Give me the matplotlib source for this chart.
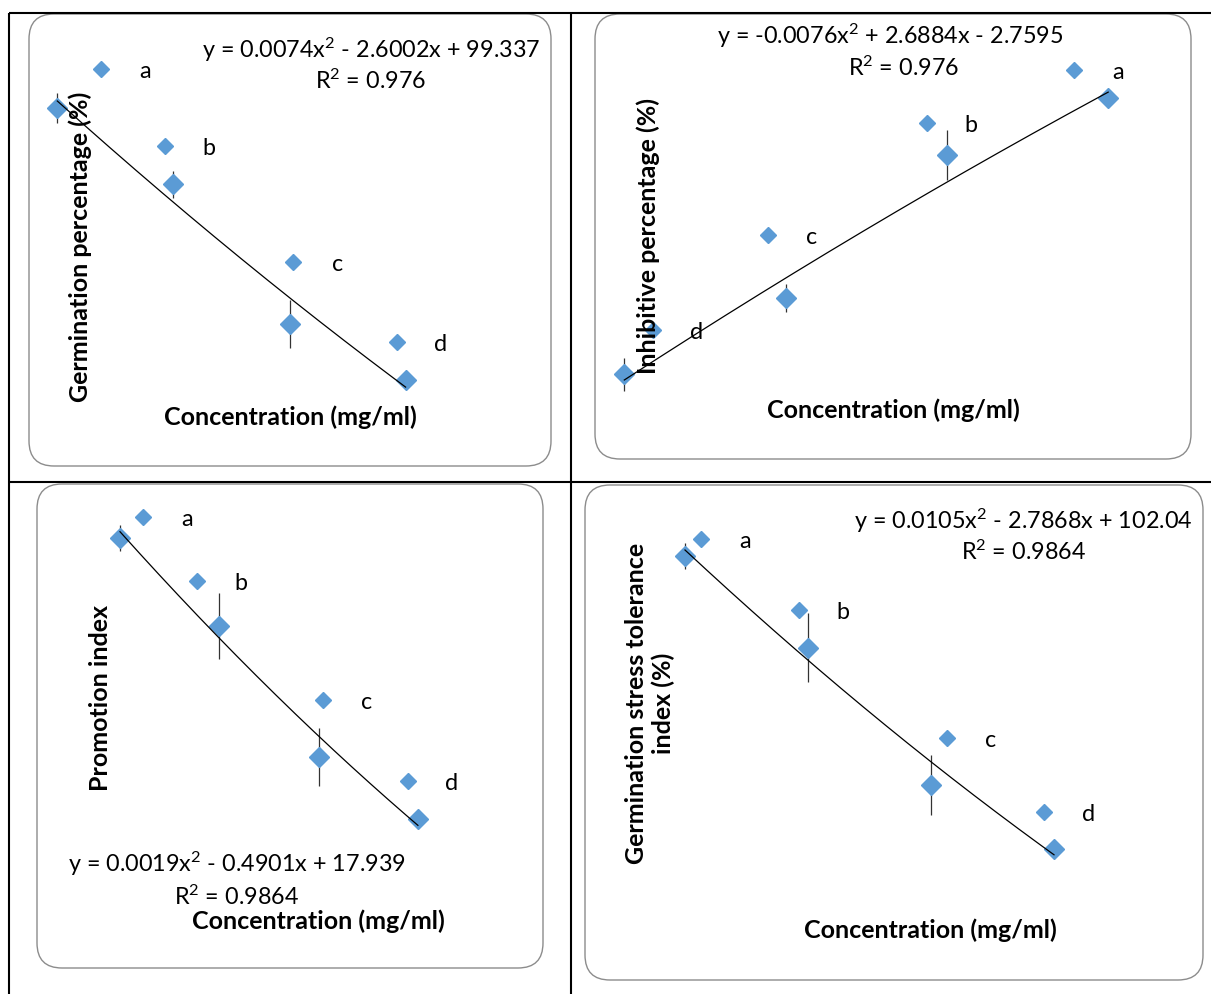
import numpy as np
import matplotlib
matplotlib.use('Agg')
import matplotlib.pyplot as plt
from matplotlib.patches import FancyBboxPatch

W, H = 1211, 994
plt.rcParams['font.family'] = ['Lato', 'DejaVu Sans']
plt.rcParams['mathtext.fontset'] = 'custom'
plt.rcParams['mathtext.rm'] = 'Lato'
plt.rcParams['mathtext.it'] = 'Lato'
plt.rcParams['mathtext.bf'] = 'Lato:bold'

# ---------------- data ----------------
conc = [0, 10, 20, 30]

# Panel 1: Germination percentage (%)
gp_mean = [97.6, 78.6, 43.7, 29.8]
gp_err = [3.7, 3.4, 5.9, 1.5]
gp_let_x = [3.74, 9.28, 20.33, 29.23]
gp_let_y = [107.3, 88.2, 59.3, 39.2]
gp_letters = ['a', 'b', 'c', 'd']
gp_coef = [0.0074, -2.6002, 99.337]
gp_r2 = "0.976"

# Panel 2: Inhibitive percentage (%)
ip_mean = [-1.3, 18.2, 54.9, 69.5]
ip_err = [4.2, 3.6, 6.4, 1.0]
ip_let_x = [1.76, 8.91, 18.77, 27.88]
ip_let_y = [10.1, 34.4, 63.1, 76.7]
ip_letters = ['d', 'c', 'b', 'a']
ip_coef = [-0.0076, 2.6884, -2.7595]
ip_r2 = "0.976"

# Panel 3: Promotion index
pi_mean = [17.67, 13.78, 7.97, 5.23]
pi_err = [0.58, 1.46, 1.3, 0.1]
pi_let_x = [2.29, 7.78, 20.44, 29.0]
pi_let_y = [18.6, 15.76, 10.49, 6.91]
pi_letters = ['a', 'b', 'c', 'd']
pi_coef = [0.0019, -0.4901, 17.939]
pi_r2 = "0.9864"

# Panel 4: Germination stress tolerance index (%)
gs_mean = [100.6, 78.3, 44.9, 29.3]
gs_err = [3.2, 8.4, 7.3, 1.0]
gs_let_x = [1.28, 9.27, 21.3, 29.2]
gs_let_y = [104.7, 87.4, 56.3, 38.3]
gs_letters = ['a', 'b', 'c', 'd']
gs_coef = [0.0105, -2.7868, 102.04]
gs_r2 = "0.9864"


def eq_text(c):
    def fmt(v):
        return f"{abs(v):g}"
    s = f"y = {'-' if c[0] < 0 else ''}{fmt(c[0])}x$^{{2}}$"
    s += f" {'-' if c[1] < 0 else '+'} {fmt(c[1])}x"
    s += f" {'-' if c[2] < 0 else '+'} {fmt(c[2])}"
    return s


# ---------------- layout ----------------
fig = plt.figure(figsize=(W / 100, H / 100), dpi=100)
bg = fig.add_axes([0, 0, 1, 1], zorder=-5)
bg.set_xlim(0, W)
bg.set_ylim(H, 0)
bg.axis('off')

# table grid lines
lw_grid = 1.5
bg.plot([9, W], [13, 13], color='black', lw=lw_grid, solid_capstyle='butt')
bg.plot([9, 9], [13, H], color='black', lw=lw_grid, solid_capstyle='butt')
bg.plot([571, 571], [13, H], color='black', lw=lw_grid, solid_capstyle='butt')
bg.plot([9, W], [482, 482], color='black', lw=lw_grid, solid_capstyle='butt')

BLUE = '#5B9BD5'
EQ_FS = 16.8
LAB_FS = 18


def ptext(x, y, s, **kw):
    kw.setdefault('ha', 'center')
    kw.setdefault('va', 'center')
    fig.text(x / W, 1 - y / H, s, **kw)


panels = [
    dict(box=(29, 14, 551, 466), p0=57.3, sx=11.61, va=99.337, qa=101, sy=4.01,
         mean=gp_mean, err=gp_err, lx=gp_let_x, ly=gp_let_y, lt=gp_letters,
         coef=gp_coef, r2=gp_r2,
         eq=(371, 50), r2pos=(371, 81), ylab="Germination percentage (%)", ylpos=(80, 247),
         xlpos=(290, 417)),
    dict(box=(595, 14, 1191, 459), p0=624.3, sx=16.13, va=-2.7595, qa=380, sy=3.90,
         mean=ip_mean, err=ip_err, lx=ip_let_x, ly=ip_let_y, lt=ip_letters,
         coef=ip_coef, r2=ip_r2,
         eq=(890, 36), r2pos=(904, 68), ylab="Inhibitive percentage (%)", ylpos=(648, 236),
         xlpos=(893, 410)),
    dict(box=(37, 484, 543, 968), p0=120, sx=9.93, va=17.939, qa=531.7, sy=22.6,
         mean=pi_mean, err=pi_err, lx=pi_let_x, ly=pi_let_y, lt=pi_letters,
         coef=pi_coef, r2=pi_r2,
         eq=(237, 864), r2pos=(237, 897), ylab="Promotion index", ylpos=(101, 698),
         xlpos=(318, 921)),
    dict(box=(585, 485, 1203, 980), p0=685, sx=12.3, va=102.04, qa=550, sy=4.11,
         mean=gs_mean, err=gs_err, lx=gs_let_x, ly=gs_let_y, lt=gs_letters,
         coef=gs_coef, r2=gs_r2,
         eq=(1023, 521), r2pos=(1024, 552), ylab="Germination stress tolerance\nindex (%)",
         ylpos=(650, 703), xlpos=(930, 930)),
]

for p in panels:
    L, T, R, B = p['box']
    box = FancyBboxPatch((L, T), R - L, B - T,
                         boxstyle="round,pad=0,rounding_size=25",
                         facecolor='white', edgecolor='#8c8c8c', lw=1.0)
    bg.add_patch(box)

    ax = fig.add_axes([L / W, 1 - B / H, (R - L) / W, (B - T) / H])
    ax.patch.set_alpha(0)
    ax.axis('off')
    ax.set_xlim((L - p['p0']) / p['sx'], (R - p['p0']) / p['sx'])
    ax.set_ylim(p['va'] - (B - p['qa']) / p['sy'], p['va'] + (p['qa'] - T) / p['sy'])

    ax.errorbar(conc, p['mean'], yerr=p['err'], fmt='none', ecolor='#333333',
                elinewidth=0.9, capsize=0, zorder=2)
    ax.plot(conc, p['mean'], 'D', ms=10, color=BLUE, mec=BLUE, zorder=3)
    ax.plot(p['lx'], p['ly'], 'D', ms=8.5, color=BLUE, mec=BLUE, zorder=3)
    xs = np.linspace(conc[0], conc[-1], 200)
    ax.plot(xs, np.polyval(p['coef'], xs), color='black', lw=0.9, zorder=4)
    for x, y, t in zip(p['lx'], p['ly'], p['lt']):
        ax.annotate(t, (x, y), xytext=(44, -2.5), textcoords='offset pixels',
                    ha='center', va='center', fontsize=EQ_FS, zorder=5)

    ptext(*p['eq'], eq_text(p['coef']), fontsize=EQ_FS)
    ptext(*p['r2pos'], f"R$^{{2}}$ = {p['r2']}", fontsize=EQ_FS)
    ptext(*p['ylpos'], p['ylab'], fontsize=LAB_FS, fontweight='bold', rotation=90,
          linespacing=1.15)
    ptext(*p['xlpos'], "Concentration (mg/ml)", fontsize=LAB_FS, fontweight='bold')

fig.savefig('out.png', dpi=100)
